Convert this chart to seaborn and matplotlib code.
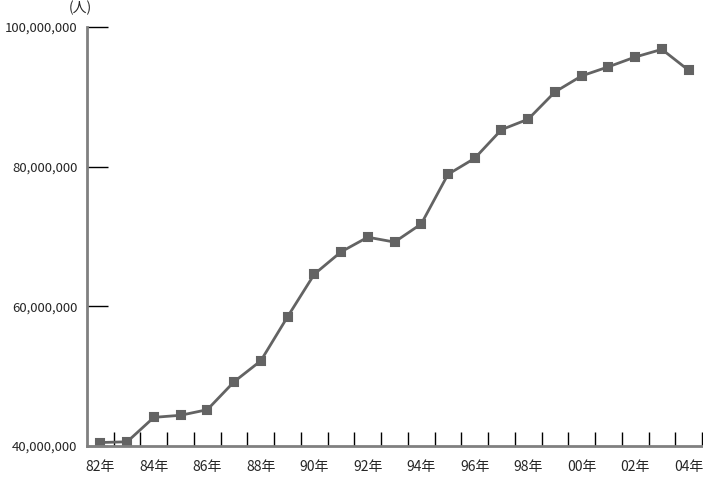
import seaborn as sns
import matplotlib.pyplot as plt
import numpy as np
import pandas as pd

sns.set_style("white")
plt.rcParams['font.family'] = ['Noto Sans CJK JP', 'DejaVu Sans']

# 年ごとの人数
years = ['82年', '83年', '84年', '85年', '86年', '87年', '88年', '89年', '90年', '91年',
         '92年', '93年', '94年', '95年', '96年', '97年', '98年', '99年', '00年', '01年',
         '02年', '03年', '04年']
people = [40.5, 40.6, 44.1, 44.4, 45.2, 49.2, 52.2, 58.5, 64.6, 67.8,
          69.9, 69.2, 71.8, 78.9, 81.2, 85.3, 86.8, 90.7, 93.0, 94.3,
          95.7, 96.8, 93.8]
people = [v * 1e6 for v in people]
y_ticks = [40e6, 60e6, 80e6, 100e6]

df = pd.DataFrame({'year': years, 'people': people})

fig = plt.figure(figsize=(7.03, 4.79), dpi=100)
ax = fig.add_axes([87 / 703, 1 - 446 / 479, 615 / 703, 419 / 479])

line_col = '#636363'
sns.pointplot(data=df, x='year', y='people', ax=ax, color=line_col,
              markers='s', linestyles='-', markersize=5.5, linewidth=2)

ax.set_xlim(-0.5, len(years) - 0.5)
ax.set_ylim(40e6, 100e6)
ax.set_xlabel('')
ax.set_ylabel('')

# x: 2年ごとのラベル、区切り目盛り
ax.set_xticks(range(0, len(years), 2))
ax.set_xticklabels(years[::2])
ax.set_xticks(np.arange(0.5, len(years), 1), minor=True)
ax.tick_params(axis='x', which='both', bottom=True)
ax.tick_params(axis='x', which='major', length=0, pad=10, labelsize=10)
ax.tick_params(axis='x', which='minor', direction='in', length=10, width=1, color='black')

ax.set_yticks(y_ticks)
ax.set_yticklabels([f'{int(v):,}' for v in y_ticks])
ax.tick_params(axis='y', left=True, direction='in', length=15, width=1, color='black',
               pad=7, labelsize=9.5)

for s in ['top', 'right']:
    ax.spines[s].set_visible(False)
for s in ['left', 'bottom']:
    ax.spines[s].set_color('#808080')
    ax.spines[s].set_linewidth(2)

fig.text(80 / 703, 1 - 8 / 479, '(人)', ha='center', va='center', fontsize=10)

fig.savefig('out.png', dpi=100)
